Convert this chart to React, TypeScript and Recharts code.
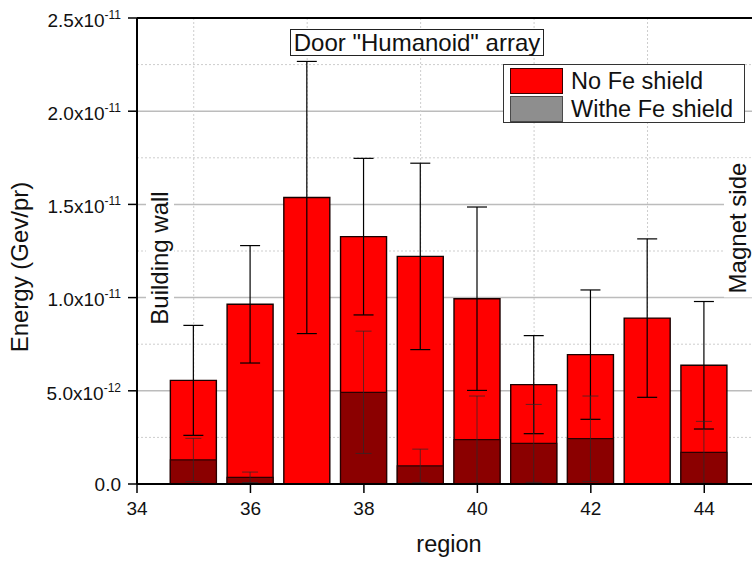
import React from 'react';
import {
  ComposedChart,
  Bar,
  XAxis,
  YAxis,
  CartesianGrid,
  ErrorBar,
  ReferenceLine,
  Legend,
  Label,
} from 'recharts';

const FONT = '"Liberation Sans", Arial, Helvetica, sans-serif';

// Deposited energy per region (GeV per proton)
const regions = [35, 36, 37, 38, 39, 40, 41, 42, 43, 44];
const noFeShield = [5.56e-12, 9.64e-12, 15.37e-12, 13.27e-12, 12.21e-12, 9.94e-12, 5.33e-12, 6.94e-12, 8.9e-12, 6.37e-12];
const noFeShieldErr = [2.95e-12, 3.15e-12, 7.3e-12, 4.2e-12, 5.0e-12, 4.92e-12, 2.63e-12, 3.47e-12, 4.25e-12, 3.42e-12];
const feShield = [1.29e-12, 0.36e-12, null, 4.92e-12, 0.97e-12, 2.38e-12, 2.18e-12, 2.43e-12, null, 1.7e-12];
const feShieldErr = [1.16e-12, 0.28e-12, null, 3.28e-12, 0.9e-12, 2.34e-12, 2.09e-12, 2.29e-12, null, 1.66e-12];

// Axis ticks
const xDomain: [number, number] = [34, 45];
const xMajorTicks = [34, 36, 38, 40, 42, 44];
const xMinorTicks = [35, 37, 39, 41, 43];
const yDomain: [number, number] = [0, 2.5e-11];
const yMajorTicks = [0, 5e-12, 1e-11, 1.5e-11, 2e-11, 2.5e-11];
const yMinorTicks = [2.5e-12, 7.5e-12, 1.25e-11, 1.75e-11, 2.25e-11];

const title = 'Door "Humanoid" array';
const xTitle = 'region';
const yTitle = 'Energy (Gev/pr)';
const leftNote = 'Building wall';
const rightNote = 'Magnet side';

const legendEntries = [
  { label: 'No Fe shield', swatch: '#ff0000', border: '#3a0000' },
  { label: 'Withe Fe shield', swatch: '#8e8e8e', border: '#4a4a4a' },
];

const rows = regions.map((region, i) => ({
  region,
  noFe: noFeShield[i],
  noFeErr: noFeShieldErr[i],
  withFe: feShield[i],
  withFeErr: feShieldErr[i],
}));

function YTick(props: any) {
  const { x, y, payload } = props;
  const v = payload.value as number;
  if (v === 0) {
    return (
      <text x={x} y={y} dy="0.355em" textAnchor="end" fontSize={19} fill="#111" fontFamily={FONT}>
        0.0
      </text>
    );
  }
  const exp = Math.floor(Math.log10(v) + 1e-9);
  const mant = (v / Math.pow(10, exp)).toFixed(1);
  return (
    <text x={x} y={y + 2} dy="0.355em" textAnchor="end" fontSize={19} fill="#111" fontFamily={FONT}>
      <tspan>{mant}x10</tspan>
      <tspan dy={-8} fontSize={12}>{String(exp)}</tspan>
    </text>
  );
}

function YTitle(props: any) {
  const vb = props.viewBox || { x: 0, y: 0, width: 0, height: 0 };
  const cx = vb.x + 28;
  const cy = vb.y + vb.height / 2 + 16;
  return (
    <text
      x={0}
      y={0}
      transform={`translate(${cx}, ${cy}) rotate(-90)`}
      textAnchor="middle"
      fontSize={24}
      fill="#111"
      fontFamily={FONT}
    >
      {yTitle}
    </text>
  );
}

function XTitle(props: any) {
  const vb = props.viewBox || { x: 0, y: 0, width: 0, height: 0 };
  return (
    <text
      x={vb.x + vb.width / 2}
      y={vb.y + 68}
      textAnchor="middle"
      fontSize={23.5}
      fill="#111"
      fontFamily={FONT}
    >
      {xTitle}
    </text>
  );
}

function LegendBox() {
  return (
    <div
      style={{
        boxSizing: 'border-box',
        width: 242,
        height: 59,
        border: '1px solid #333',
        background: '#fff',
        padding: '1.4px 0 0 6.4px',
        fontFamily: FONT,
        color: '#111',
      }}
    >
      {legendEntries.map((e) => (
        <div key={e.label} style={{ display: 'flex', alignItems: 'center', height: 28.6 }}>
          <span
            style={{
              display: 'inline-block',
              boxSizing: 'border-box',
              width: 53,
              height: 26,
              background: e.swatch,
              border: `1.5px solid ${e.border}`,
              marginRight: 7.7,
            }}
          />
          <span style={{ fontSize: 23.5, lineHeight: '26px', whiteSpace: 'nowrap' }}>{e.label}</span>
        </div>
      ))}
    </div>
  );
}

const sideNote: React.CSSProperties = {
  position: 'absolute',
  transform: 'translate(-50%, -50%) rotate(-90deg)',
  background: '#fff',
  fontSize: 24,
  lineHeight: '28px',
  padding: '0 4px',
  whiteSpace: 'nowrap',
  color: '#111',
  fontFamily: FONT,
};

export default function App() {
  return (
    <div
      style={{
        position: 'absolute',
        left: 0,
        top: 0,
        width: 752,
        height: 561,
        overflow: 'hidden',
        background: '#fff',
        fontFamily: FONT,
      }}
    >
      <ComposedChart
        width={770}
        height={561}
        data={rows}
        margin={{ top: 18, right: 9, bottom: 0, left: 0 }}
      >
        <XAxis
          xAxisId="minor"
          dataKey="region"
          type="number"
          domain={xDomain}
          ticks={xMinorTicks}
          tick={false}
          tickSize={4}
          tickLine={{ stroke: '#000', strokeWidth: 1.5 }}
          axisLine={false}
          height={0}
          allowDataOverflow
        />
        <XAxis
          xAxisId="major"
          dataKey="region"
          type="number"
          domain={xDomain}
          ticks={xMajorTicks}
          tickSize={9}
          tickMargin={9}
          height={77}
          axisLine={{ stroke: '#000', strokeWidth: 2 }}
          tickLine={{ stroke: '#000', strokeWidth: 1.5 }}
          tick={{ fontSize: 19, fill: '#111', fontFamily: FONT }}
          allowDataOverflow
        >
          <Label content={XTitle} />
        </XAxis>
        <YAxis
          yAxisId="yminor"
          type="number"
          domain={yDomain}
          ticks={yMinorTicks}
          tick={false}
          tickSize={4}
          tickLine={{ stroke: '#000', strokeWidth: 1.5 }}
          axisLine={false}
          width={0}
          allowDataOverflow
        />
        <YAxis
          yAxisId="y"
          type="number"
          domain={yDomain}
          ticks={yMajorTicks}
          tickSize={9}
          tickMargin={7}
          width={137}
          tick={<YTick />}
          axisLine={{ stroke: '#000', strokeWidth: 2 }}
          tickLine={{ stroke: '#000', strokeWidth: 1.5 }}
          allowDataOverflow
        >
          <Label content={YTitle} />
        </YAxis>
        <CartesianGrid
          xAxisId="major"
          yAxisId="y"
          vertical={false}
          horizontalValues={yMajorTicks.filter((v) => v > 0 && v < yDomain[1])}
          stroke="#bcbcbc"
          strokeWidth={1.5}
        />
        <CartesianGrid
          xAxisId="major"
          yAxisId="y"
          horizontalValues={yMinorTicks}
          verticalValues={xMinorTicks}
          stroke="#cdcdcd"
          strokeDasharray="2 2"
        />
        <ReferenceLine xAxisId="major" yAxisId="y" y={yDomain[1]} stroke="#000" strokeWidth={2} />
        <Bar
          xAxisId="major"
          yAxisId="y"
          dataKey="noFe"
          name="No Fe shield"
          fill="#ff0000"
          stroke="#1a0000"
          strokeWidth={1.4}
          barSize={46}
          isAnimationActive={false}
        >
          <ErrorBar dataKey="noFeErr" width={10} stroke="#000" strokeWidth={1.2} direction="y" />
        </Bar>
        <Bar
          xAxisId="minor"
          yAxisId="y"
          dataKey="withFe"
          name="Withe Fe shield"
          fill="#8b0000"
          stroke="#2a0000"
          strokeWidth={1.2}
          barSize={46}
          isAnimationActive={false}
        >
          <ErrorBar dataKey="withFeErr" width={8} stroke="#2a2a2a" strokeWidth={0.9} strokeOpacity={0.8} direction="y" />
        </Bar>
        <Legend
          layout="vertical"
          align="center"
          verticalAlign="middle"
          wrapperStyle={{ left: 503, top: 64, width: 242, height: 59 }}
          content={() => <LegendBox />}
        />
      </ComposedChart>

      <div
        style={{
          position: 'absolute',
          left: 290,
          top: 28.7,
          width: 254,
          height: 27.6,
          boxSizing: 'border-box',
          border: '1px solid #222',
          background: '#fff',
          fontSize: 24,
          lineHeight: '25.6px',
          textAlign: 'center',
          whiteSpace: 'nowrap',
          color: '#111',
          fontFamily: FONT,
        }}
      >
        {title}
      </div>

      <div style={{ ...sideNote, left: 160, top: 258 }}>{leftNote}</div>
      <div style={{ ...sideNote, left: 738, top: 228 }}>{rightNote}</div>
    </div>
  );
}
